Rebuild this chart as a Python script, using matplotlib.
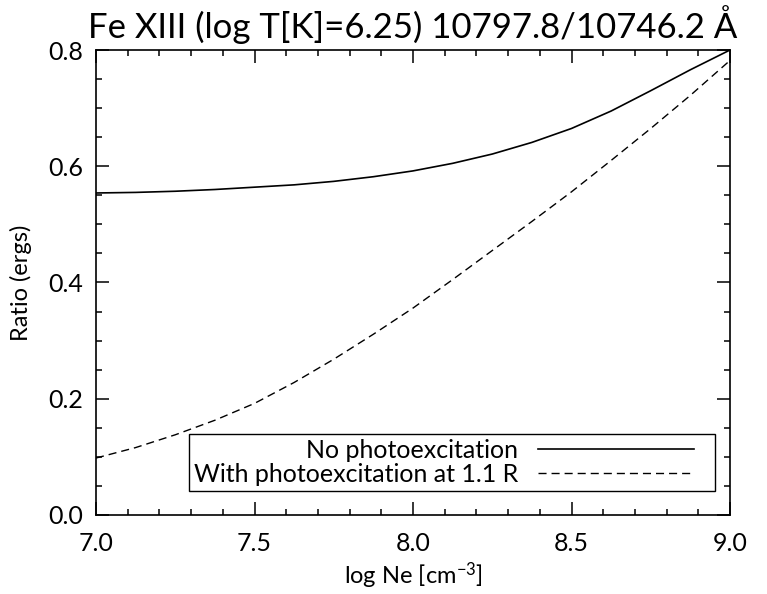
import matplotlib
matplotlib.use('Agg')
import matplotlib.pyplot as plt
from matplotlib.ticker import MultipleLocator, FormatStrFormatter

# Fe XIII 10797.8/10746.2 ratio against log electron density
log_ne = [7.0, 7.125, 7.25, 7.375, 7.5, 7.625, 7.75, 7.875, 8.0,
          8.125, 8.25, 8.375, 8.5, 8.625, 8.75, 8.875, 9.0]
ratio_nophot = [0.554, 0.555, 0.557, 0.560, 0.564, 0.568, 0.574, 0.582, 0.592,
                0.605, 0.621, 0.641, 0.665, 0.695, 0.730, 0.766, 0.800]
ratio_phot = [0.098, 0.116, 0.138, 0.163, 0.192, 0.228, 0.268, 0.311, 0.356,
              0.405, 0.455, 0.505, 0.556, 0.610, 0.665, 0.722, 0.782]

plt.rcParams['font.family'] = ['Lato', 'DejaVu Sans']
plt.rcParams['mathtext.fontset'] = 'custom'
plt.rcParams['mathtext.rm'] = 'Lato'
plt.rcParams['mathtext.default'] = 'rm'

fig = plt.figure(figsize=(7.67, 5.94), dpi=100)
ax = fig.add_axes([96/767, 1-515/594, 634/767, 465/594])

ax.plot(log_ne, ratio_nophot, 'k-', lw=1.2, label='No photoexcitation')
ax.plot(log_ne, ratio_phot, 'k--', lw=1.0, dashes=(5.8, 3.6),
        label='With photoexcitation at 1.1 R')

ax.set_xlim(7.0, 9.0)
ax.set_ylim(0.0, 0.8)
ax.xaxis.set_major_locator(MultipleLocator(0.5))
ax.xaxis.set_minor_locator(MultipleLocator(0.1))
ax.yaxis.set_major_locator(MultipleLocator(0.2))
ax.yaxis.set_minor_locator(MultipleLocator(0.05))
ax.xaxis.set_major_formatter(FormatStrFormatter('%.1f'))
ax.yaxis.set_major_formatter(FormatStrFormatter('%.1f'))
ax.tick_params(which='both', direction='in', top=True, right=True, width=1.1)
ax.tick_params(which='major', length=9.5, labelsize=18)
ax.tick_params(which='minor', length=4.5)
ax.tick_params(axis='x', pad=12)
ax.tick_params(axis='y', pad=9)
for s in ax.spines.values():
    s.set_linewidth(1.2)

ax.set_xlabel('log Ne [cm$^{-3}$]', fontsize=17, labelpad=4)
ax.set_ylabel('Ratio (ergs)', fontsize=17, labelpad=12)
ax.set_title('Fe XIII (log T[K]=6.25) 10797.8/10746.2 \u00c5', fontsize=25, pad=9)

# legend box spans a fixed region; the single column sits at its left
leg = ax.legend(loc='lower left', bbox_to_anchor=(0.1467, 0.0516, 0.83, 0.13),
                mode='expand', markerfirst=False,
                fontsize=18, handlelength=6.24, handletextpad=0.8, borderpad=0.2,
                labelspacing=0.05, borderaxespad=0, fancybox=False,
                framealpha=1, edgecolor='k')
leg.get_frame().set_linewidth(1.0)

fig.savefig('out.png', dpi=100)
